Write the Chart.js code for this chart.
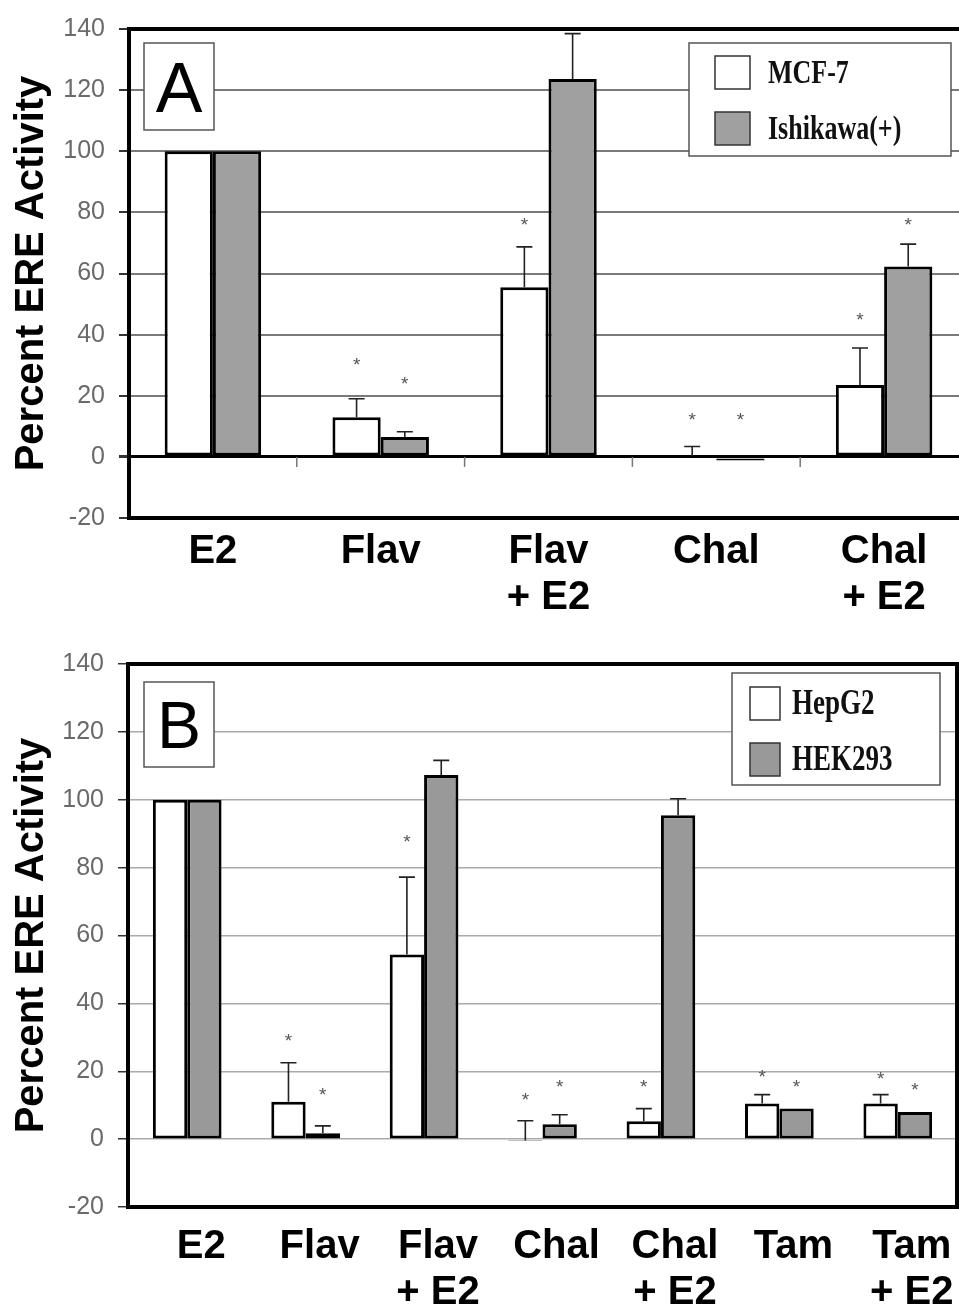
<!DOCTYPE html>
<html><head>
<meta charset="utf-8">
<script src="https://cdn.jsdelivr.net/npm/chart.js@4"></script>
<style>
html,body{margin:0;padding:0;overflow:hidden;background:#fff;width:959px;height:1310px}
#wa{position:absolute;left:0;top:0;width:980px;height:635px}
#wb{position:absolute;left:0;top:635px;width:980px;height:675px}
canvas{display:block}
</style></head><body>
<div id="wa"><canvas id="ca" width="980" height="635"></canvas></div>
<div id="wb"><canvas id="cb" width="980" height="675"></canvas></div>
<script>
// ---------- data: panel A ----------
const categoriesA = [['E2'], ['Flav'], ['Flav', '+ E2'], ['Chal'], ['Chal', '+ E2']];
const seriesNamesA = ['MCF-7', 'Ishikawa(+)'];
const mcf7 = [100, 13, 55.5, 0.3, 23.5];
const ishikawa = [100, 6.5, 123.6, -1.2, 62.3];
const mcf7Err = [0, 6, 13.2, 3.1, 12.1];
const ishikawaErr = [0, 1.7, 14.9, 0, 7.3];
const mcf7Star = [null, 31, 77, 13, 46];
const ishikawaStar = [null, 25, null, 13, 77];

// ---------- data: panel B ----------
const categoriesB = [['E2'], ['Flav'], ['Flav', '+ E2'], ['Chal'], ['Chal', '+ E2'], ['Tam'], ['Tam', '+ E2']];
const seriesNamesB = ['HepG2', 'HEK293'];
const hepg2 = [100, 11, 54.4, -0.4, 5.3, 10.5, 10.5];
const hek293 = [100, 1.7, 107.3, 4.4, 95.4, 9, 8];
const hepg2Err = [0, 11.5, 22.8, 5.8, 3.7, 2.6, 2.6];
const hek293Err = [0, 2.2, 4.3, 2.8, 4.9, 0, 0];
const hepg2Star = [null, 30, 88.6, 12.4, 16.3, 19.3, 18.8];
const hek293Star = [null, 14, null, 16.3, null, 16.3, 15.5];

const yTicks = [-20, 0, 20, 40, 60, 80, 100, 120, 140];
const SANS = "'Liberation Sans', Arial, sans-serif";
const SERIF = "'Liberation Serif', 'Times New Roman', serif";

const panelPlugin = {
  id: 'panel',
  afterDatasetsDraw(chart, args, o) {
    const ctx = chart.ctx, ys = chart.scales.y;
    ctx.save();
    chart.data.datasets.forEach((ds, di) => {
      const meta = chart.getDatasetMeta(di);
      meta.data.forEach((el, j) => {
        const v = ds.data[j];
        const e = o.errors[di][j];
        if (e) {
          const y0 = ys.getPixelForValue(v), y1 = ys.getPixelForValue(v + e);
          ctx.strokeStyle = '#222'; ctx.lineWidth = 1.6;
          ctx.beginPath();
          ctx.moveTo(el.x, y0); ctx.lineTo(el.x, y1);
          ctx.moveTo(el.x - 8, y1); ctx.lineTo(el.x + 8, y1);
          ctx.stroke();
        }
        const s = o.stars[di][j];
        if (s !== null && s !== undefined) {
          ctx.fillStyle = '#555';
          ctx.font = '19px ' + SANS;
          ctx.textAlign = 'center'; ctx.textBaseline = 'middle';
          ctx.fillText('*', el.x, ys.getPixelForValue(s) + 4);
        }
      });
    });
    ctx.restore();
  },
  afterDraw(chart, args, o) {
    const ctx = chart.ctx, a = chart.chartArea, xs = chart.scales.x, ys = chart.scales.y;
    ctx.save();
    if (o.zeroTicks) {
      const y0 = ys.getPixelForValue(0);
      ctx.strokeStyle = '#777'; ctx.lineWidth = 1.5;
      for (let i = 0; i < chart.data.labels.length - 1; i++) {
        const x = (xs.getPixelForTick(i) + xs.getPixelForTick(i + 1)) / 2;
        ctx.beginPath(); ctx.moveTo(x, y0); ctx.lineTo(x, y0 + 10); ctx.stroke();
      }
    }
    ctx.strokeStyle = '#000'; ctx.lineWidth = 4;
    ctx.strokeRect(a.left, a.top, a.right - a.left, a.bottom - a.top);
    const b = o.letterBox;
    ctx.fillStyle = '#fff'; ctx.fillRect(b.x, b.y, b.w, b.h);
    ctx.strokeStyle = '#555'; ctx.lineWidth = 1.5; ctx.strokeRect(b.x, b.y, b.w, b.h);
    ctx.fillStyle = '#000'; ctx.font = b.size + 'px ' + SANS;
    ctx.textAlign = 'center'; ctx.textBaseline = 'alphabetic';
    ctx.fillText(o.letter, b.x + b.w / 2, b.y + b.h / 2 + b.size * 0.36);
    const L = o.legend;
    ctx.fillStyle = '#fff'; ctx.fillRect(L.x, L.y, L.w, L.h);
    ctx.strokeStyle = '#555'; ctx.lineWidth = 1.5; ctx.strokeRect(L.x, L.y, L.w, L.h);
    chart.data.datasets.forEach((ds, i) => {
      const sy = L.y + L.itemTop + i * L.itemGap;
      ctx.fillStyle = ds.backgroundColor; ctx.fillRect(L.x + L.sqX, sy, L.sqW, L.sqH);
      ctx.strokeStyle = '#333'; ctx.lineWidth = 1.5; ctx.strokeRect(L.x + L.sqX, sy, L.sqW, L.sqH);
      ctx.save();
      ctx.translate(L.x + L.textX, sy + L.sqH / 2);
      ctx.scale(1, L.stretch);
      ctx.fillStyle = '#111'; ctx.font = 'bold ' + L.font + 'px ' + SERIF;
      ctx.textAlign = 'left'; ctx.textBaseline = 'middle';
      ctx.fillText(ds.label, 0, 1);
      ctx.restore();
    });
    ctx.restore();
  }
};

function makeChart(id, cats, names, s1, s2, e1, e2, st1, st2, cfg) {
  return new Chart(document.getElementById(id), {
    type: 'bar',
    data: {
      labels: cats,
      datasets: [
        { label: names[0], data: s1, backgroundColor: '#ffffff', borderColor: '#000', borderWidth: 3, borderSkipped: false },
        { label: names[1], data: s2, backgroundColor: cfg.gray, borderColor: '#000', borderWidth: 3, borderSkipped: false }
      ]
    },
    options: {
      responsive: false, animation: false, devicePixelRatio: 1,
      categoryPercentage: cfg.catPct, barPercentage: 1,
      layout: { padding: { top: cfg.padTop, right: cfg.padRight, left: 0, bottom: 0 } },
      plugins: {
        legend: { display: false }, tooltip: { enabled: false },
        panel: { errors: [e1, e2], stars: [st1, st2], zeroTicks: cfg.zeroTicks, letter: cfg.letter, letterBox: cfg.letterBox, legend: cfg.legend }
      },
      scales: {
        x: {
          grid: { display: false, drawTicks: false },
          border: { display: false },
          ticks: { color: '#000', font: { family: SANS, size: 40, weight: 'bold', lineHeight: 1.15 }, padding: cfg.xPad, labelOffset: cfg.labelOffset, maxRotation: 0, autoSkip: false },
          afterFit: s => { s.height = cfg.xHeight; }
        },
        y: {
          min: -20, max: 140,
          afterBuildTicks: s => { s.ticks = yTicks.map(v => ({ value: v })); },
          grid: {
            color: c => (c.tick && c.tick.value === 0 && cfg.zeroBlack) ? '#000' : cfg.gridColor,
            lineWidth: c => (c.tick && c.tick.value === 0 && cfg.zeroBlack) ? 3 : cfg.gridWidth,
            tickColor: '#333', tickLength: 10, drawTicks: true
          },
          border: { display: false },
          ticks: { color: '#6a6a6a', font: { family: SANS, size: 25 }, padding: 14 },
          title: { display: true, text: 'Percent ERE Activity', color: '#000', font: { family: SANS, size: 40, weight: 'bold' }, padding: { top: 8, bottom: 0 } },
          afterFit: s => { s.width = cfg.yWidth; }
        }
      }
    },
    plugins: [panelPlugin]
  });
}

makeChart('ca', categoriesA, seriesNamesA, mcf7, ishikawa, mcf7Err, ishikawaErr, mcf7Star, ishikawaStar, {
  gray: '#a0a0a0', catPct: 0.575, padTop: 27, padRight: 12, xHeight: 117, yWidth: 129,
  xPad: 11, labelOffset: 0, zeroTicks: true, zeroBlack: true, gridColor: '#7a7a7a', gridWidth: 2,
  letter: 'A', letterBox: { x: 144, y: 43, w: 70, h: 87, size: 70 },
  legend: { x: 689, y: 43, w: 262, h: 113, itemTop: 13, itemGap: 56, sqX: 26, sqW: 35, sqH: 33, textX: 79, font: 26, stretch: 1.3 }
});

makeChart('cb', categoriesB, seriesNamesB, hepg2, hek293, hepg2Err, hek293Err, hepg2Star, hek293Star, {
  gray: '#999999', catPct: 0.58, padTop: 26, padRight: 23, xHeight: 103, yWidth: 128,
  xPad: 17, labelOffset: 14, zeroTicks: false, zeroBlack: false, gridColor: '#aaaaaa', gridWidth: 1.5,
  letter: 'B', letterBox: { x: 144, y: 47, w: 70, h: 85, size: 66 },
  legend: { x: 732, y: 38, w: 208, h: 112, itemTop: 14, itemGap: 56, sqX: 18, sqW: 30, sqH: 33, textX: 60, font: 27, stretch: 1.3 }
});
</script>
</body></html>
